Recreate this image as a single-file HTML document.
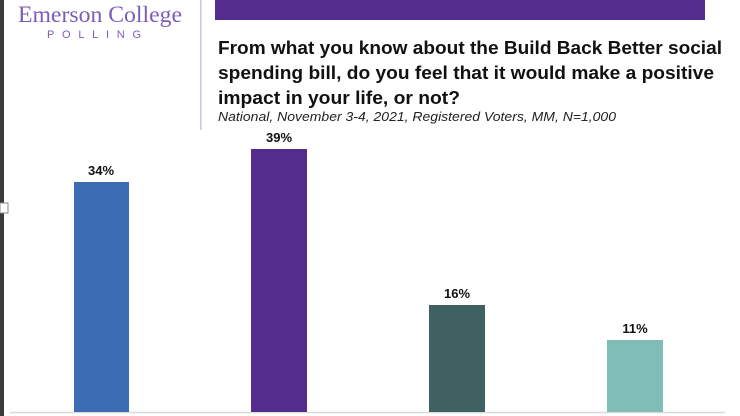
<!DOCTYPE html>
<html><head><meta charset="utf-8"><style>
html,body{margin:0;padding:0;background:#fff;}
svg{display:block;}
</style></head><body>
<svg width="740" height="416" viewBox="0 0 740 416" xmlns="http://www.w3.org/2000/svg">
<rect x="0" y="0" width="740" height="416" fill="#fff"/>
<rect x="0" y="0" width="4" height="416" fill="#3a3a3a"/>
<rect x="0" y="203" width="8" height="10" fill="#fff" stroke="#888" stroke-width="1"/>
<text x="18" y="22" font-family="Liberation Serif, serif" font-size="23" fill="#7d5cb8" textLength="164" lengthAdjust="spacingAndGlyphs">Emerson College</text>
<text x="47" y="38" font-family="Liberation Sans, sans-serif" font-size="11" fill="#7d5cb8" textLength="103" lengthAdjust="spacing" letter-spacing="9">POLLING</text>
<rect x="200" y="0" width="1.5" height="130" fill="#c5cbe0"/>
<rect x="215" y="0" width="490" height="20" fill="#542d8f"/>
<g font-family="Liberation Sans, sans-serif" font-weight="bold" font-size="18" fill="#111">
<text x="218" y="54" textLength="504" lengthAdjust="spacingAndGlyphs">From what you know about the Build Back Better social</text>
<text x="218" y="79" textLength="496" lengthAdjust="spacingAndGlyphs">spending bill, do you feel that it would make a positive</text>
<text x="218" y="104" textLength="242" lengthAdjust="spacingAndGlyphs">impact in your life, or not?</text>
</g>
<text x="218" y="121" font-family="Liberation Sans, sans-serif" font-style="italic" font-size="13" fill="#222" textLength="398" lengthAdjust="spacingAndGlyphs">National, November 3-4, 2021, Registered Voters, MM, N=1,000</text>
<line x1="10" y1="412.5" x2="725" y2="412.5" stroke="#d9d9d9" stroke-width="1.5"/>
<rect x="74" y="182" width="55" height="230" fill="#3c6db4"/>
<rect x="251" y="149" width="56" height="263" fill="#532c8e"/>
<rect x="429" y="305" width="56" height="107" fill="#3f6161"/>
<rect x="607" y="340" width="56" height="72" fill="#80bdb7"/>
<g font-family="Liberation Sans, sans-serif" font-weight="bold" font-size="13" fill="#111" text-anchor="middle">
<text x="101" y="175">34%</text>
<text x="279" y="142">39%</text>
<text x="457" y="298">16%</text>
<text x="635" y="333">11%</text>
</g>
</svg>
</body></html>
